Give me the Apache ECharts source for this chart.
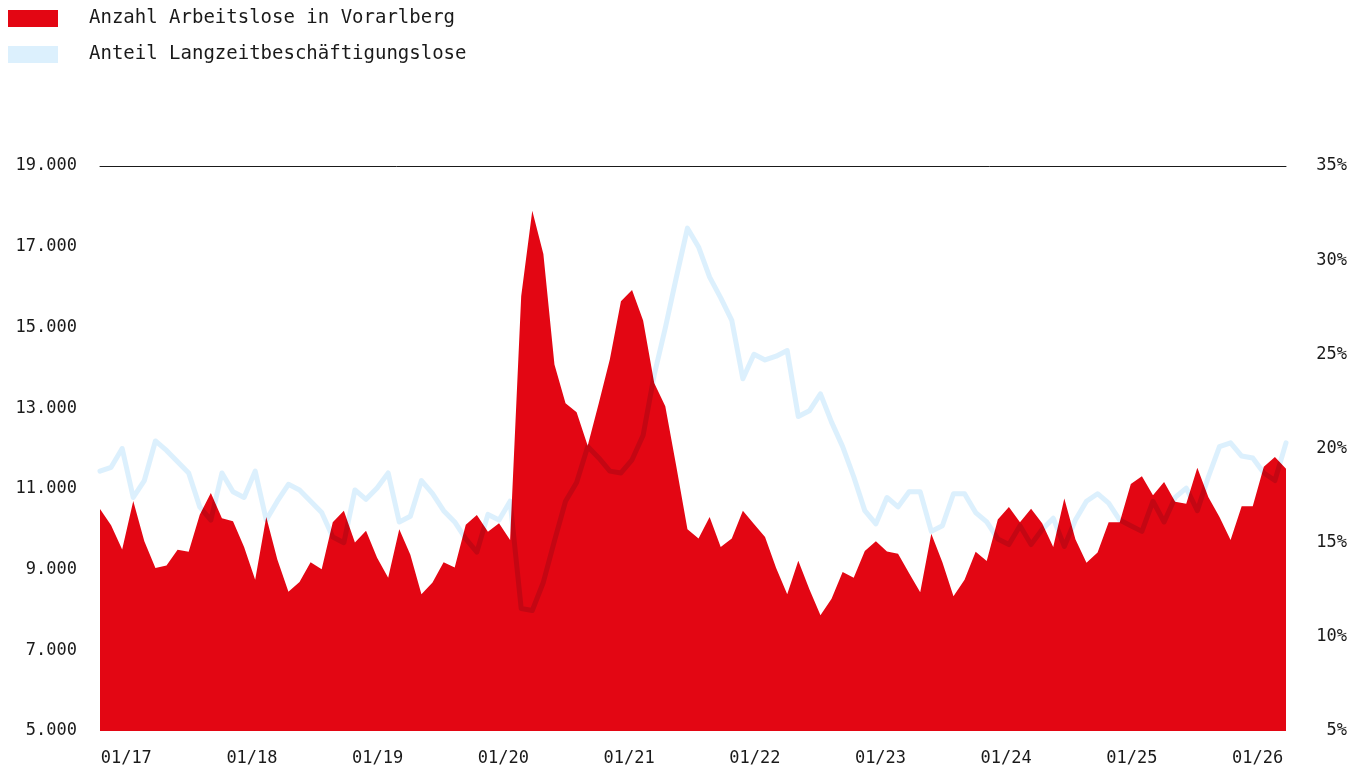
<!DOCTYPE html>
<html>
<head>
<meta charset="utf-8">
<script src="https://cdn.jsdelivr.net/npm/echarts@6/dist/echarts.min.js"></script>
<style>
    html, body { margin: 0; padding: 0; background: #fff; }
    #chart { width: 1366px; height: 771px; }
</style>
</head>
<body>
<div id="chart"></div>
<script>
// Daten: monatlich 01/2017 bis 12/2025
const years = [17, 18, 19, 20, 21, 22, 23, 24, 25];

// Anzahl Arbeitslose in Vorarlberg
const arbeitslose = [
    10500, 10100, 9500, 10700, 9700, 9040, 9100, 9490, 9440, 10360, 10900, 10270,
    10200, 9560, 8750, 10300, 9250, 8450, 8690, 9180, 9010, 10170, 10460, 9670,
    9960, 9290, 8800, 10000, 9370, 8390, 8680, 9180, 9050, 10110, 10350, 9940,
    10150, 9730, 15770, 17890, 16820, 14080, 13120, 12900, 12070, 13120, 14210, 15650,
    15930, 15170, 13620, 13050, 11550, 10000, 9770, 10300, 9560, 9770, 10460, 10130,
    9810, 9040, 8390, 9220, 8510, 7870, 8280, 8940, 8800, 9460, 9700, 9450,
    9390, 8910, 8440, 9890, 9180, 8340, 8750, 9440, 9210, 10240, 10550, 10170,
    10510, 10150, 9560, 10760, 9750, 9170, 9420, 10170, 10170, 11120, 11310, 10840,
    11170, 10680, 10630, 11520, 10790, 10300, 9730, 10570, 10570, 11550, 11790, 11500
];

// Anteil Langzeitbeschäftigungslose in %
const anteilLzbl = [
    18.8, 19.0, 20.0, 17.4, 18.3, 20.4, 19.9, 19.3, 18.7, 16.9, 16.2, 18.7,
    17.7, 17.4, 18.8, 16.2, 17.2, 18.1, 17.8, 17.2, 16.6, 15.3, 15.0, 17.8,
    17.3, 17.9, 18.7, 16.1, 16.4, 18.3, 17.6, 16.7, 16.1, 15.2, 14.5, 16.5,
    16.2, 17.2, 11.5, 11.4, 12.9, 15.1, 17.2, 18.2, 20.1, 19.5, 18.8, 18.7,
    19.4, 20.7, 23.9, 26.4, 29.1, 31.7, 30.7, 29.1, 28.0, 26.8, 23.7, 25.0,
    24.7, 24.9, 25.2, 21.7, 22.0, 22.9, 21.4, 20.1, 18.5, 16.7, 16.0, 17.4,
    16.9, 17.7, 17.7, 15.6, 15.9, 17.6, 17.6, 16.6, 16.1, 15.2, 14.9, 15.9,
    14.9, 15.7, 16.3, 14.8, 16.2, 17.2, 17.6, 17.1, 16.2, 15.9, 15.6, 17.2,
    16.1, 17.4, 17.9, 16.7, 18.5, 20.1, 20.3, 19.6, 19.5, 18.7, 18.3, 20.3
];

// Achsenbeschriftung unten (gleichmäßig verteilt)
const jahresLabels = ['01/17', '01/18', '01/19', '01/20', '01/21', '01/22', '01/23', '01/24', '01/25', '01/26'];

const monate = [];
years.forEach(y => {
    for (let m = 1; m <= 12; m++) {
        monate.push(String(m).padStart(2, '0') + '/' + y);
    }
});

const ROT = '#e30613';
const HELLBLAU = '#dcf0fd';
const TEXT = '#1a1a1a';
const FONT = '"DejaVu Sans Mono", "Liberation Mono", monospace';

function tausender(v) {
    return String(v).replace(/\B(?=(\d{3})+(?!\d))/g, '.');
}

const chart = echarts.init(document.getElementById('chart'), null, { renderer: 'canvas' });

chart.setOption({
    backgroundColor: '#fff',
    animation: false,
    legend: {
        orient: 'vertical',
        left: 8,
        top: 9,
        padding: 0,
        itemWidth: 50,
        itemHeight: 17,
        itemGap: 17,
        textStyle: {
            fontFamily: FONT,
            fontSize: 19,
            color: TEXT,
            padding: [2, 0, 0, 26]
        },
        data: [
            { name: 'Anzahl Arbeitslose in Vorarlberg', icon: 'rect', itemStyle: { color: ROT } },
            { name: 'Anteil Langzeitbeschäftigungslose', icon: 'rect', itemStyle: { color: HELLBLAU } }
        ]
    },
    grid: {
        left: 100,
        right: 80,
        top: 166,
        bottom: 40
    },
    xAxis: [{
        type: 'category',
        data: monate,
        boundaryGap: false,
        position: 'top',
        axisLine: { show: true, lineStyle: { color: TEXT, width: 1 } },
        axisTick: { show: false },
        axisLabel: { show: false },
        splitLine: { show: false }
    }, {
        // nur für die Jahresbeschriftung
        type: 'value',
        position: 'bottom',
        min: -0.209,
        max: 9.226,
        axisLine: { show: false },
        axisTick: { show: false },
        splitLine: { show: false },
        axisLabel: {
            customValues: jahresLabels.map((_, i) => i),
            formatter: v => jahresLabels[Math.round(v)],
            margin: 19,
            fontFamily: FONT,
            fontSize: 17,
            color: TEXT
        }
    }],
    yAxis: [{
        type: 'value',
        min: 5000,
        max: 19000,
        interval: 2000,
        axisLine: { show: false },
        axisTick: { show: false },
        splitLine: { show: false },
        axisLabel: {
            formatter: tausender,
            margin: 23,
            padding: [4, 0, 0, 0],
            fontFamily: FONT,
            fontSize: 17,
            color: TEXT
        }
    }, {
        type: 'value',
        position: 'right',
        min: 5,
        max: 35,
        interval: 5,
        axisLine: { show: false },
        axisTick: { show: false },
        splitLine: { show: false },
        axisLabel: {
            formatter: '{value}%',
            align: 'right',
            margin: 61,
            padding: [4, 0, 0, 0],
            fontFamily: FONT,
            fontSize: 17,
            color: TEXT
        }
    }],
    series: [{
        name: 'Anzahl Arbeitslose in Vorarlberg',
        type: 'line',
        xAxisIndex: 0,
        yAxisIndex: 0,
        data: arbeitslose,
        symbol: 'none',
        itemStyle: { color: ROT },
        lineStyle: { width: 0 },
        areaStyle: { color: ROT, opacity: 1, origin: 'start' },
        z: 2
    }, {
        name: 'Anteil Langzeitbeschäftigungslose',
        type: 'line',
        xAxisIndex: 0,
        yAxisIndex: 1,
        data: anteilLzbl,
        symbol: 'none',
        itemStyle: { color: HELLBLAU },
        lineStyle: { color: HELLBLAU, width: 5, join: 'round', cap: 'round' },
        blendMode: 'multiply',
        z: 3
    }]
});
</script>
</body>
</html>
